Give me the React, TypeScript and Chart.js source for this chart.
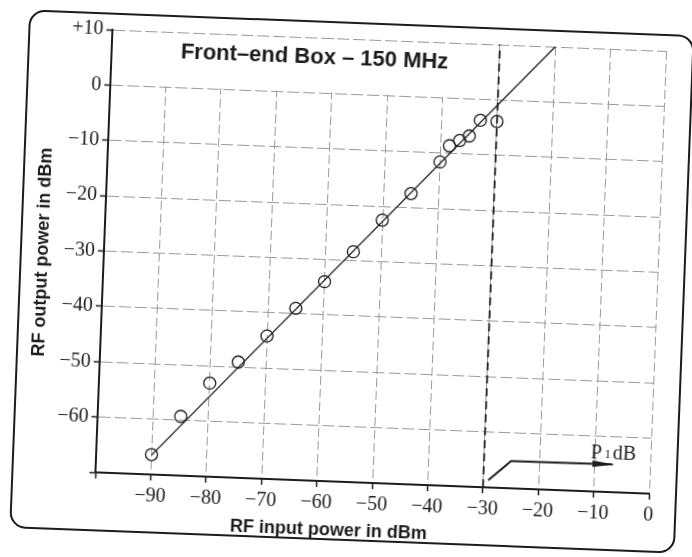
import { useEffect, useRef } from 'react';
import { Chart, registerables } from 'chart.js';

Chart.register(...registerables);

// ---- data ----
const inputPower = [-90, -85, -80, -75, -70, -65, -60, -55, -50, -45, -40, -38.4, -36.6, -34.9, -33, -30];
const outputPower = [-66.4, -59.3, -53.1, -49.1, -44.2, -39, -34, -28.4, -22.5, -17.5, -11.6, -8.6, -7.6, -6.7, -3.8, -3.9];
const fitInput = [-90, -20];
const fitOutput = [-66.5, 10];
const p1dBInput = [-30, -30];
const p1dBOutput = [-70, 10];
const arrowInput = [-29.1, -25.1, -6.8];
const arrowOutput = [-68.7, -65.1, -65];
const p1dBLabelAt = [-10.8, -64.1];
const xTicks = [-100, -90, -80, -70, -60, -50, -40, -30, -20, -10, 0];
const xTickLabels = ['', '\u221290', '\u221280', '\u221270', '\u221260', '\u221250', '\u221240', '\u221230', '\u221220', '\u221210', '0'];
const yTicks = [-70, -60, -50, -40, -30, -20, -10, 0, 10];
const yTickLabels = ['', '\u221260', '\u221250', '\u221240', '\u221230', '\u221220', '\u221210', '0', '+10'];
const chartTitle = 'Front\u2013end Box \u2013 150 MHz';
const xTitle = 'RF input power in dBm';
const yTitle = 'RF output power in dBm';

const INK = '#1c1c1c';
const SERIF = '"Liberation Serif", "Times New Roman", serif';
const SANS = '"Liberation Sans", Arial, sans-serif';

const decor = {
  id: 'decor',
  beforeDatasetsDraw(chart: any) {
    const { ctx, chartArea: a, scales } = chart;
    const x = scales.x, y = scales.y;
    ctx.save();
    ctx.fillStyle = '#fff';
    const x1 = a.left + 1.5;
    const x2 = x.getPixelForValue(-30) - 1;
    const y1 = y.getPixelForValue(10) + 1;
    const y2 = y.getPixelForValue(0) - 1;
    ctx.fillRect(x1, y1, x2 - x1, y2 - y1);
    ctx.fillStyle = INK;
    ctx.font = 'bold 22px ' + SANS;
    ctx.textAlign = 'center';
    ctx.textBaseline = 'middle';
    ctx.fillText(chartTitle, a.left + 203, a.top + 20);
    ctx.restore();
  },
  afterDatasetsDraw(chart: any) {
    const { ctx, scales } = chart;
    const x = scales.x, y = scales.y;
    const n = arrowInput.length;
    const ex = x.getPixelForValue(arrowInput[n - 1]);
    const ey = y.getPixelForValue(arrowOutput[n - 1]);
    ctx.save();
    ctx.fillStyle = INK;
    ctx.beginPath();
    ctx.moveTo(ex + 2, ey);
    ctx.lineTo(ex - 20, ey - 3.2);
    ctx.lineTo(ex - 20, ey + 3.2);
    ctx.closePath();
    ctx.fill();
    // P1dB label
    let lx = x.getPixelForValue(p1dBLabelAt[0]);
    const ly = y.getPixelForValue(p1dBLabelAt[1]);
    ctx.textAlign = 'left';
    ctx.textBaseline = 'alphabetic';
    ctx.font = '20px ' + SERIF;
    ctx.fillText('P', lx, ly);
    lx += ctx.measureText('P').width + 3;
    ctx.font = '12px ' + SERIF;
    ctx.fillText('1', lx, ly - 1);
    lx += ctx.measureText('1').width + 2;
    ctx.font = '20px ' + SERIF;
    ctx.fillText('dB', lx, ly);
    ctx.restore();
  },
  afterDraw(chart: any) {
    const { ctx, chartArea: a } = chart;
    ctx.save();
    ctx.fillStyle = INK;
    ctx.font = 'bold 18px ' + SANS;
    ctx.textAlign = 'center';
    ctx.textBaseline = 'middle';
    ctx.fillText(xTitle, a.left + 235, a.bottom + 49);
    ctx.translate(a.left - 61, a.top + 225);
    ctx.rotate(-Math.PI / 2);
    ctx.fillText(yTitle, 0, 0);
    ctx.restore();
  },
};

export default function App() {
  const ref = useRef<HTMLCanvasElement | null>(null);

  useEffect(() => {
    if (!ref.current) return;
    const pts = (xs: number[], ys: number[]) => xs.map((v, i) => ({ x: v, y: ys[i] }));
    const chart = new Chart(ref.current, {
      type: 'scatter',
      data: {
        datasets: [
          {
            label: 'measured',
            data: pts(inputPower, outputPower),
            showLine: false,
            pointStyle: 'circle',
            pointRadius: 6,
            pointBorderWidth: 1.3,
            borderColor: INK,
            backgroundColor: 'rgba(0,0,0,0)',
          },
          {
            label: 'fit',
            data: pts(fitInput, fitOutput),
            showLine: true,
            pointRadius: 0,
            borderWidth: 1.3,
            borderColor: INK,
          },
          {
            label: 'P1dB',
            data: pts(p1dBInput, p1dBOutput),
            showLine: true,
            pointRadius: 0,
            borderWidth: 1.8,
            borderDash: [8, 5],
            borderColor: INK,
          },
          {
            label: 'arrow',
            data: pts(arrowInput, arrowOutput),
            showLine: true,
            pointRadius: 0,
            borderWidth: 2,
            borderColor: INK,
          },
        ],
      },
      options: {
        responsive: false,
        animation: false,
        devicePixelRatio: 1,
        layout: { padding: { left: 0, right: 35, top: 39, bottom: 0 } },
        plugins: { legend: { display: false }, tooltip: { enabled: false } },
        scales: {
          x: {
            type: 'linear',
            min: -100,
            max: 0,
            afterBuildTicks: (s: any) => { s.ticks = xTicks.map((v) => ({ value: v })); },
            afterFit: (s: any) => { s.height = 75; },
            ticks: {
              autoSkip: false,
              maxRotation: 0,
              padding: 4,
              color: INK,
              font: { family: SERIF, size: 20 },
              callback: (v: any) => xTickLabels[xTicks.indexOf(Number(v))] ?? '',
            },
            grid: { color: '#9a9a9a', lineWidth: 1, tickColor: INK, tickWidth: 1.5, tickLength: 6 },
            border: { display: true, color: INK, width: 2, dash: [9, 4] },
          },
          y: {
            type: 'linear',
            min: -70,
            max: 10,
            afterBuildTicks: (s: any) => { s.ticks = yTicks.map((v) => ({ value: v })); },
            afterFit: (s: any) => { s.width = 103; },
            ticks: {
              autoSkip: false,
              padding: 3,
              color: INK,
              font: { family: SERIF, size: 20 },
              callback: (v: any) => yTickLabels[yTicks.indexOf(Number(v))] ?? '',
            },
            grid: { color: '#9a9a9a', lineWidth: 1, tickColor: INK, tickWidth: 1.5, tickLength: 6 },
            border: { display: true, color: INK, width: 2, dash: [12, 4] },
          },
        },
      },
      plugins: [decor],
    } as any);
    return () => chart.destroy();
  }, []);

  return (
    <div style={{ position: 'fixed', left: 0, top: 0, width: 692, height: 557, overflow: 'hidden', background: '#fff' }}>
      <div
        style={{
          position: 'absolute',
          left: 0,
          top: 0,
          width: 692,
          height: 557,
          transform: 'rotate(2.2deg)',
          transformOrigin: '350px 280px',
        }}
      >
        <div
          style={{
            position: 'absolute',
            left: 19,
            top: 22,
            width: 666,
            height: 519,
            boxSizing: 'border-box',
            border: '2px solid #1c1c1c',
            borderRadius: 16,
          }}
        />
        <canvas ref={ref} width={692} height={557} style={{ position: 'absolute', left: 0, top: 0, width: 692, height: 557 }} />
      </div>
    </div>
  );
}
